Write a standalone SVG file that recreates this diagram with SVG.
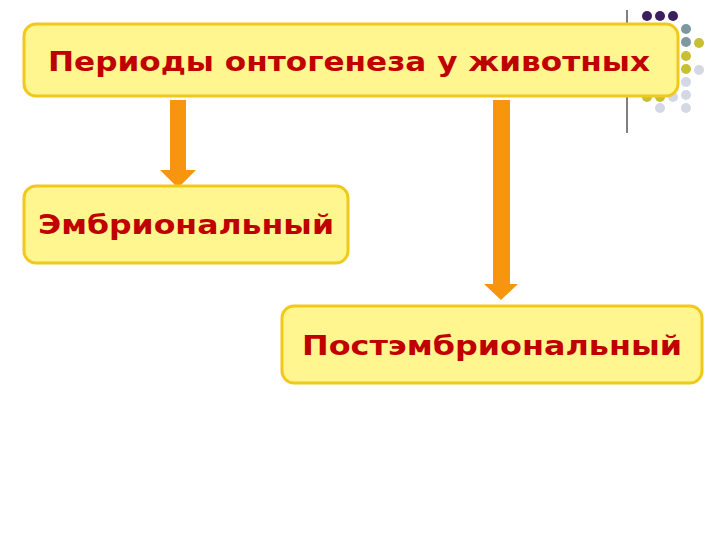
<svg xmlns="http://www.w3.org/2000/svg" width="720" height="540" viewBox="0 0 720 540">
<style>
.box{fill:#FFF68F;stroke:#F0C81E;stroke-width:3}
.t{font-family:"DejaVu Sans","Liberation Sans",sans-serif;font-weight:bold;fill:#C00000;text-anchor:middle;font-size:26px}
.arr{fill:#F7960E}
.p{fill:#3B1E5E}.g{fill:#7F98A0}.y{fill:#C8C030}.l{fill:#D4D8E4}
</style>
<rect width="720" height="540" fill="#fff"/>
<g id="decor">
<line x1="627" y1="10" x2="627" y2="133" stroke="#000" stroke-width="1"/>
<circle class="p" cx="647" cy="16" r="5"/><circle class="p" cx="660" cy="16" r="5"/><circle class="p" cx="673" cy="16" r="5"/>
<circle class="g" cx="686" cy="29" r="5"/><circle class="g" cx="686" cy="42" r="5"/><circle class="y" cx="699" cy="43" r="5"/>
<circle class="y" cx="686" cy="56" r="5"/><circle class="y" cx="686" cy="69" r="5"/><circle class="l" cx="699" cy="70" r="5"/>
<circle class="l" cx="686" cy="82" r="5"/><circle class="l" cx="686" cy="95" r="5"/><circle class="l" cx="686" cy="108" r="5"/>
<circle class="y" cx="647" cy="97" r="5"/><circle class="y" cx="660" cy="97" r="5"/><circle class="l" cx="673" cy="97" r="5"/>
<circle class="l" cx="660" cy="108" r="5"/>
</g>
<g id="connectors">
<polygon class="arr" points="170,100 186,100 186,170 196,170 178,188 160,170 170,170"/>
<polygon class="arr" points="493,100 510,100 510,284 518,284 501,300 484,284 493,284"/>
</g>
<g id="n1"><rect class="box" x="24" y="24" width="654" height="72" rx="12"/><text class="t" x="349" y="71" textLength="602" lengthAdjust="spacingAndGlyphs">Периоды онтогенеза у животных</text></g>
<g id="n2"><rect class="box" x="24" y="186" width="324" height="77" rx="12"/><text class="t" x="186" y="234" textLength="296" lengthAdjust="spacingAndGlyphs">Эмбриональный</text></g>
<g id="n3"><rect class="box" x="282" y="306" width="420" height="77" rx="12"/><text class="t" x="492" y="355" textLength="380" lengthAdjust="spacingAndGlyphs">Постэмбриональный</text></g>
</svg>
